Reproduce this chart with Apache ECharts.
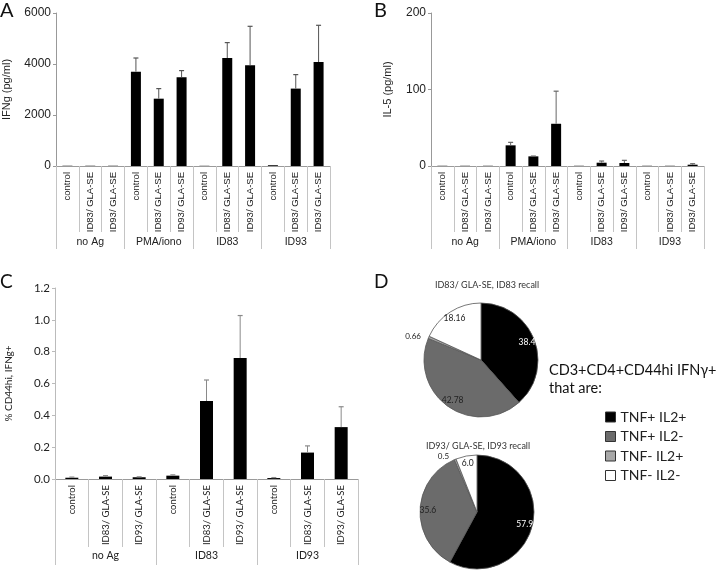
<!DOCTYPE html>
<html>
<head>
<meta charset="utf-8">
<script src="https://cdn.jsdelivr.net/npm/echarts@6/dist/echarts.min.js"></script>
<style>
html,body{margin:0;padding:0;background:#fff;}
#chart{width:720px;height:570px;}
</style>
</head>
<body>
<div id="chart"></div>
<script>
// ---------- data ----------
const subCatsAB = ['control','ID83/ GLA-SE','ID93/ GLA-SE','control','ID83/ GLA-SE','ID93/ GLA-SE','control','ID83/ GLA-SE','ID93/ GLA-SE','control','ID83/ GLA-SE','ID93/ GLA-SE'];
const groupsAB = ['no Ag','PMA/iono','ID83','ID93'];
const ifngMean = [10, 10, 10, 3700, 2640, 3478, 8, 4235, 3949, 30, 3035, 4078];
const ifngErr  = [null, null, null, 535, 395, 263, null, 604, 1529, null, 549, 1440];
const il5Mean  = [0.3, 0.3, 0.3, 27, 12.6, 55.2, 0.3, 4.3, 3.9, 0.3, 0.3, 1.7];
const il5Err   = [null, null, null, 3.9, 0.4, 42.6, null, 2.2, 3.5, null, null, 1.3];
const ifngTicks = [0, 2000, 4000, 6000];
const il5Ticks = [0, 100, 200];

const subCatsC = ['control','ID83/ GLA-SE','ID93/ GLA-SE','control','ID83/ GLA-SE','ID93/ GLA-SE','control','ID83/ GLA-SE','ID93/ GLA-SE'];
const groupsC = ['no Ag','ID83','ID93'];
const pctMean = [0.008, 0.015, 0.011, 0.021, 0.49, 0.76, 0.006, 0.166, 0.326];
const pctErr  = [0.004, 0.006, 0.003, 0.005, 0.132, 0.267, 0.003, 0.042, 0.128];
const pctTicks = [0, 0.2, 0.4, 0.6, 0.8, 1.0, 1.2];

const pieNames = ['TNF+ IL2+','TNF+ IL2-','TNF- IL2+','TNF- IL2-'];
const pieColors = ['#000000','#6b6b6b','#a8a8a8','#ffffff'];
const pie1Values = [38.4, 42.78, 0.66, 18.16];
const pie1Labels = ['38.4','42.78','0.66','18.16'];
const pie2Values = [57.9, 35.6, 0.5, 6.0];
const pie2Labels = ['57.9','35.6','0.5','6.0'];
const pie1Title = 'ID83/ GLA-SE, ID83 recall';
const pie2Title = 'ID93/ GLA-SE, ID93 recall';
const legendTitle1 = 'CD3+CD4+CD44hi IFNγ+';
const legendTitle2 = 'that are:';
const panelLetters = ['A','B','C','D'];

// ---------- helpers ----------
const ARIAL = 'Liberation Sans, Arial, sans-serif';
const CAL = 'Lato, Noto Sans, sans-serif';

function subAxis(gridIndex, data, font, fs, tickLen){
  return {
    type:'category', gridIndex, data, position:'bottom',
    axisLine:{show:true, lineStyle:{color:'#9a9a9a', width:1}},
    axisTick:{show:true, length:tickLen, lineStyle:{color:'#c4c4c4'}},
    axisLabel:{rotate:90, interval:0, margin:6, fontFamily:font, fontSize:fs, color:'#222'},
    splitLine:{show:false}
  };
}
function groupAxis(gridIndex, data, font, fs, tickLen, margin){
  return {
    type:'category', gridIndex, data, position:'bottom',
    axisLine:{show:false},
    axisTick:{show:true, length:tickLen, lineStyle:{color:'#c4c4c4'}},
    axisLabel:{interval:0, margin, fontFamily:font, fontSize:fs, color:'#222'},
    splitLine:{show:false}
  };
}
function valAxis(gridIndex, ticks, name, nameGap, font, fs, nameFs, fmt, axisColor){
  return {
    type:'value', gridIndex, min:ticks[0], max:ticks[ticks.length-1], interval:ticks[1]-ticks[0],
    name, nameLocation:'middle', nameGap, nameRotate:90,
    nameTextStyle:{fontFamily:font, fontSize:nameFs, color:'#222'},
    axisLine:{show:true, lineStyle:{color:axisColor}},
    axisTick:{show:true, length:3, lineStyle:{color:axisColor}},
    axisLabel:{fontFamily:font, fontSize:fs, color:'#222', margin:5, formatter:fmt},
    splitLine:{show:false}
  };
}
function errSeries(xi, yi, means, errs, color){
  const data = [];
  means.forEach((m,i)=>{ if(errs[i]!=null) data.push([i, m, errs[i]]); });
  return {
    type:'custom', xAxisIndex:xi, yAxisIndex:yi, z:5, silent:true, data,
    renderItem:function(params, api){
      const x = api.value(0), v = api.value(1), e = api.value(2);
      const b = api.coord([x, v]); const t = api.coord([x, v+e]);
      const cap = 2.5;
      return {type:'group', children:[
        {type:'line', shape:{x1:b[0],y1:b[1],x2:t[0],y2:t[1]}, style:{stroke:color, lineWidth:1}},
        {type:'line', shape:{x1:t[0]-cap,y1:t[1],x2:t[0]+cap,y2:t[1]}, style:{stroke:color, lineWidth:1.2}}
      ]};
    }
  };
}
function barSeries(xi, yi, means, w){
  return {type:'bar', xAxisIndex:xi, yAxisIndex:yi, data:means, barWidth:w, itemStyle:{color:'#000'}, z:3};
}
function pieMain(center, r, values){
  return {
    type:'pie', center, radius:r, startAngle:90, clockwise:true, silent:true,
    label:{show:false}, labelLine:{show:false},
    data: values.map((v,i)=>({name:pieNames[i], value:v, itemStyle:{color:pieColors[i], borderColor:'#555', borderWidth:0.8}}))
  };
}
function pieLabels(center, r, values, labels){
  return {
    type:'pie', center, radius:[r*0.62, r], startAngle:90, clockwise:true, silent:true,
    avoidLabelOverlap:false, z:4,
    itemStyle:{color:'rgba(0,0,0,0)', borderWidth:0},
    data: values.map((v,i)=>{
      const small = v < 2;
      return {
        name:pieNames[i], value:v,
        itemStyle:{color:'rgba(0,0,0,0)', borderWidth:0},
        label: small ? {show:true, position:'outside', formatter:labels[i], fontFamily:CAL, fontSize:8, color:'#222'}
                     : {show:true, position:'inside', formatter:labels[i], fontFamily:CAL, fontSize:8.5, color: i===0 ? '#fff' : '#222'},
        labelLine:{show:false, length:3, length2:0}
      };
    })
  };
}

const chart = echarts.init(document.getElementById('chart'), null, {renderer:'canvas'});
const option = {
  animation:false,
  backgroundColor:'#fff',
  grid:[
    {left:55, top:13, width:275, height:153},
    {left:431, top:13, width:273, height:153},
    {left:55, top:288, width:303, height:191}
  ],
  xAxis:[
    subAxis(0, subCatsAB, ARIAL, 9.5, 66),
    groupAxis(0, groupsAB, ARIAL, 10.5, 83, 71),
    subAxis(1, subCatsAB, ARIAL, 9.5, 66),
    groupAxis(1, groupsAB, ARIAL, 10.5, 83, 71),
    subAxis(2, subCatsC, CAL, 9.5, 68),
    groupAxis(2, groupsC, CAL, 10.5, 86, 71)
  ],
  yAxis:[
    valAxis(0, ifngTicks, 'IFNg (pg/ml)', 44, ARIAL, 12, 11, v=>String(v), '#999'),
    valAxis(1, il5Ticks, 'IL-5 (pg/ml)', 38, ARIAL, 12, 11, v=>String(v), '#999'),
    valAxis(2, pctTicks, '% CD44hi, IFNg+', 41, CAL, 11.5, 10, v=>v.toFixed(1), '#bbb')
  ],
  legend:{
    orient:'vertical', left:605, top:410, padding:0, itemWidth:10, itemHeight:10, itemGap:5.5,
    icon:'rect', selectedMode:false,
    textStyle:{fontFamily:CAL, fontSize:14, color:'#222'},
    data: pieNames.map((n,i)=>({name:n, itemStyle:{color:pieColors[i], borderColor:'#333', borderWidth:1}}))
  },
  graphic:[
    {type:'text', left:0, top:1, style:{text:panelLetters[0], fontFamily:CAL, fontSize:20, fill:'#111'}},
    {type:'text', left:374, top:1, style:{text:panelLetters[1], fontFamily:CAL, fontSize:20, fill:'#111'}},
    {type:'text', left:0, top:272, style:{text:panelLetters[2], fontFamily:CAL, fontSize:19, fill:'#111'}},
    {type:'text', left:374, top:272, style:{text:panelLetters[3], fontFamily:CAL, fontSize:19, fill:'#111'}},
    {type:'text', x:487, y:285, style:{text:pie1Title, fontFamily:CAL, fontSize:9, fill:'#333', align:'center', verticalAlign:'middle'}},
    {type:'text', x:478, y:446, style:{text:pie2Title, fontFamily:CAL, fontSize:9, fill:'#333', align:'center', verticalAlign:'middle'}},
    {type:'text', x:549, y:370, style:{text:legendTitle1, fontFamily:CAL, fontSize:14.5, fill:'#111', align:'left', verticalAlign:'middle'}},
    {type:'text', x:549, y:388, style:{text:legendTitle2, fontFamily:CAL, fontSize:14.5, fill:'#111', align:'left', verticalAlign:'middle'}}
  ],
  series:[
    barSeries(0, 0, ifngMean, 10),
    errSeries(0, 0, ifngMean, ifngErr, '#555'),
    barSeries(2, 1, il5Mean, 10),
    errSeries(2, 1, il5Mean, il5Err, '#666'),
    barSeries(4, 2, pctMean, 13),
    errSeries(4, 2, pctMean, pctErr, '#8a8a8a'),
    pieMain([481, 360], 57, pie1Values),
    pieLabels([481, 360], 57, pie1Values, pie1Labels),
    pieMain([477, 512], 57, pie2Values),
    pieLabels([477, 512], 57, pie2Values, pie2Labels)
  ]
};
chart.setOption(option);
</script>
</body>
</html>
